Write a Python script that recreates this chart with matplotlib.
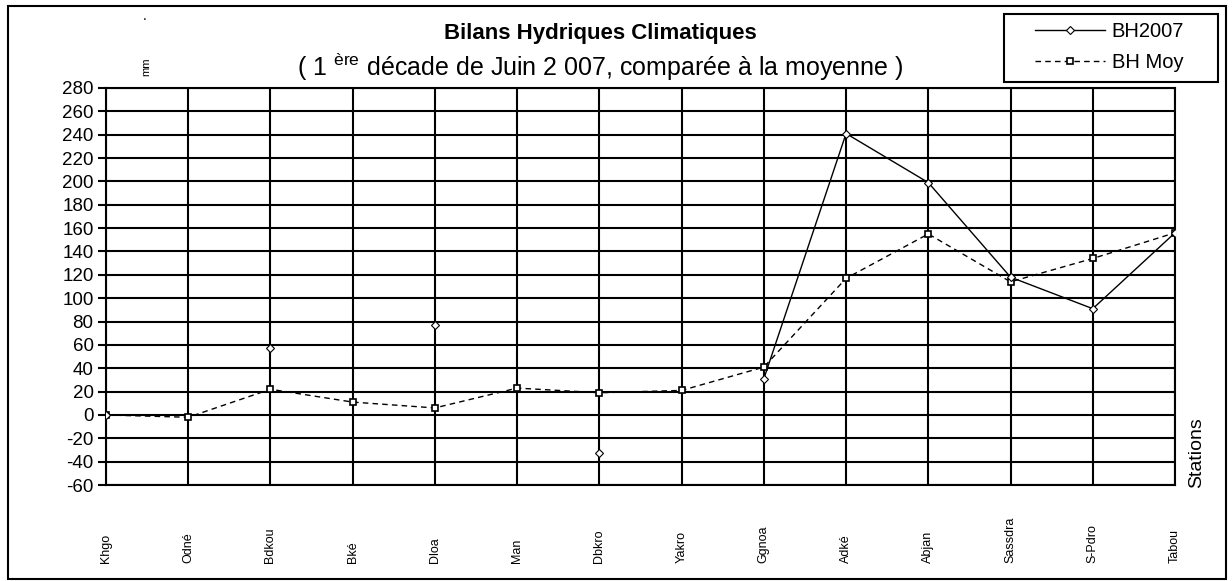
import numpy as np
import matplotlib.pyplot as plt
from matplotlib.patches import Rectangle

plt.rcParams['font.family'] = ['Liberation Sans', 'DejaVu Sans']
plt.rcParams['axes.unicode_minus'] = False

stations = ['Khgo', 'Odné', 'Bdkou', 'Bké', 'Dloa', 'Man', 'Dbkro',
            'Yakro', 'Ggnoa', 'Adké', 'Abjan', 'Sassdra', 'S-Pdro', 'Tabou']
bh2007 = [0, np.nan, 57, np.nan, 77, np.nan, -33,
          np.nan, 31, 241, 199, 118, 91, 156]
bh_moy = [0, -2, 22, 11, 6, 23, 19, 21, 41, 117, 155, 114, 134, 156]
y_ticks = list(range(-60, 281, 20))

W, H = 1232, 581
fig = plt.figure(figsize=(W / 100, H / 100), dpi=100)
ax = fig.add_axes([106 / W, 1 - 485 / H, (1175 - 106) / W, (485 - 88) / H])

x = np.arange(len(stations))
ax.plot(x, bh_moy, color='black', lw=1, ls=(0, (4, 3)), marker='s', ms=5,
        mfc='white', mec='black', mew=1.2, label='BH Moy', zorder=3)
ax.plot(x, bh2007, color='black', lw=1, marker='D', ms=4,
        mfc='white', mec='black', mew=0.8, label='BH2007', zorder=4)

ax.set_xlim(0, len(stations) - 1)
ax.set_ylim(-60, 280)
ax.set_yticks(y_ticks)
ax.set_xticks(x)
ax.set_xticklabels([])
ax.tick_params(axis='x', length=0)
ax.tick_params(axis='y', length=6, width=1.5, labelsize=13.5, pad=3)
ax.grid(True, color='black', lw=1.5)
ax.set_axisbelow(True)
for s in ax.spines.values():
    s.set_linewidth(1.5)

for i, name in enumerate(stations):
    ax.text(i, -0.196, name, transform=ax.get_xaxis_transform(),
            rotation=90, ha='center', va='bottom', fontsize=9)

fig.text(600 / W, 1 - 33 / H, 'Bilans Hydriques Climatiques',
         ha='center', va='center', fontsize=16, fontweight='bold')
fig.text(600 / W, 1 - 67 / H,
         '( 1 $^{\\mathregular{ère}}$ décade de Juin 2 007, comparée à la moyenne )',
         ha='center', va='center', fontsize=18)
fig.text(146 / W, 1 - 67 / H, 'mm', rotation=90, ha='center', va='center', fontsize=8)
fig.text(145 / W, 1 - 16 / H, '.', ha='center', va='center', fontsize=10)
fig.text(1197 / W, 1 - 453 / H, 'Stations', rotation=90, ha='center',
         va='center', fontsize=14)

# outer frame and legend frame
fig.patches.append(Rectangle((8 / W, 2 / H), (1226 - 8) / W, (575 - 2) / H,
                             transform=fig.transFigure, fill=False,
                             ec='black', lw=1.5))
fig.patches.append(Rectangle((1004 / W, 1 - 82 / H), (1218 - 1004) / W, 68 / H,
                             transform=fig.transFigure, fill=False,
                             ec='black', lw=1.5, zorder=5))

h, l = ax.get_legend_handles_labels()
leg = fig.legend(h[::-1], l[::-1], loc='upper left',
                 bbox_to_anchor=(1035 / W, 1 - 22 / H), frameon=False,
                 fontsize=14.5, handlelength=3.5, borderpad=0,
                 labelspacing=0.62, handletextpad=0.3, borderaxespad=0)

plt.savefig('out.png', dpi=100)
